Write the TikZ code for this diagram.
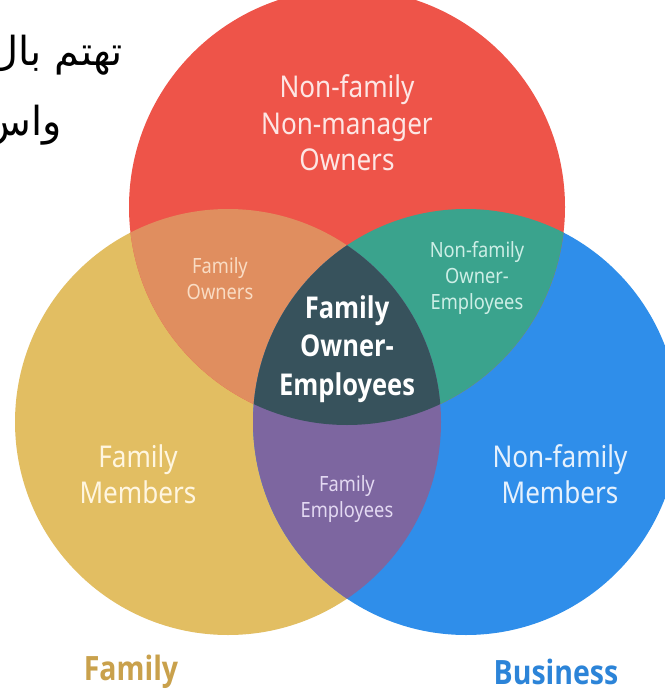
\documentclass[tikz,border=0pt]{standalone}
\usepackage{fontspec}
\TeXXeTstate=1
\newfontfamily\lab[FakeStretch=0.87]{Noto Sans}
\IfFontExistsTF{Noto Sans Bold}
  {\newfontfamily\labb[FakeStretch=0.87]{Noto Sans Bold}}
  {\IfFontExistsTF{Open Sans Bold}
    {\newfontfamily\labb[FakeStretch=0.85]{Open Sans Bold}}
    {\newfontfamily\labb[FakeStretch=0.87,FakeBold=2.5]{Noto Sans}}}
\newfontfamily\arabicfont[Script=Arabic]{DejaVu Sans}
\definecolor{cred}{HTML}{EE5449}
\definecolor{cyel}{HTML}{E2BE62}
\definecolor{cblue}{HTML}{2F8EEA}
\definecolor{corange}{HTML}{E08E5F}
\definecolor{cteal}{HTML}{3AA38D}
\definecolor{cpurple}{HTML}{7D66A0}
\definecolor{cdark}{HTML}{37525C}
\definecolor{tfam}{HTML}{C9A14C}
\definecolor{tbus}{HTML}{2C84D8}
\definecolor{tred}{HTML}{FDE6E4}
\definecolor{torange}{HTML}{F9DCC4}
\definecolor{tteal}{HTML}{CDEEE6}
\definecolor{tyel}{HTML}{FFF6E0}
\definecolor{tpurple}{HTML}{E3D9F2}
\definecolor{tblue}{HTML}{E6F1FD}
\begin{document}
\begin{tikzpicture}[x=1pt,y=-1pt,
  biglbl/.style={align=center, inner sep=0pt, font=\lab\fontsize{30}{36.5}\selectfont},
  boldlbl/.style={align=center, inner sep=0pt, font=\labb\fontsize{30}{38.5}\selectfont, text=white},
  smalllbl/.style={align=center, inner sep=0pt, font=\lab\fontsize{21}{26}\selectfont},
  setlbl/.style={inner sep=0pt, font=\labb\fontsize{33.5}{40}\selectfont},
  arlbl/.style={inner sep=0pt, anchor=base east, font=\arabicfont\fontsize{40}{48}\selectfont}]
\useasboundingbox (0,0) rectangle (664,695);
\fill[white] (0,0) rectangle (664,695);
% Arabic fragment
\node[arlbl] (ar1) at (123,66) {\beginR تهتم بال\endR};
\node[arlbl] (ar2) at (62,136) {\beginR واس\endR};
% circles
\fill[cyel] (228,422) circle[radius=213];
\fill[cblue] (466,422) circle[radius=213];
\fill[cred] (347,207) circle[radius=218];
\begin{scope}
  \clip (228,422) circle[radius=213];
  \fill[corange] (347,207) circle[radius=218];
\end{scope}
\begin{scope}
  \clip (466,422) circle[radius=213];
  \fill[cteal] (347,207) circle[radius=218];
\end{scope}
\begin{scope}
  \clip (228,422) circle[radius=213];
  \fill[cpurple] (466,422) circle[radius=213];
\end{scope}
\begin{scope}
  \clip (228,422) circle[radius=213];
  \clip (466,422) circle[radius=213];
  \fill[cdark] (347,207) circle[radius=218];
\end{scope}
% labels
\node[biglbl, text=tred] (owners) at (347,123) {Non-family\\Non-manager\\Owners};
\node[smalllbl, text=torange] (famown) at (220,279) {Family\\Owners};
\node[smalllbl, text=tteal] (nfoe) at (477,278) {Non-family\\Owner-\\Employees};
\node[boldlbl] (foe) at (347,349) {Family\\Owner-\\Employees};
\node[biglbl, text=tyel] (fmem) at (138,474) {Family\\Members};
\node[smalllbl, text=tpurple] (femp) at (347,499) {Family\\Employees};
\node[biglbl, text=tblue] (nfmem) at (560,474) {Non-family\\Members};
\node[setlbl, text=tfam] (family) at (131,672) {Family};
\node[setlbl, text=tbus] (business) at (556,672) {Business};
\end{tikzpicture}
\end{document}
